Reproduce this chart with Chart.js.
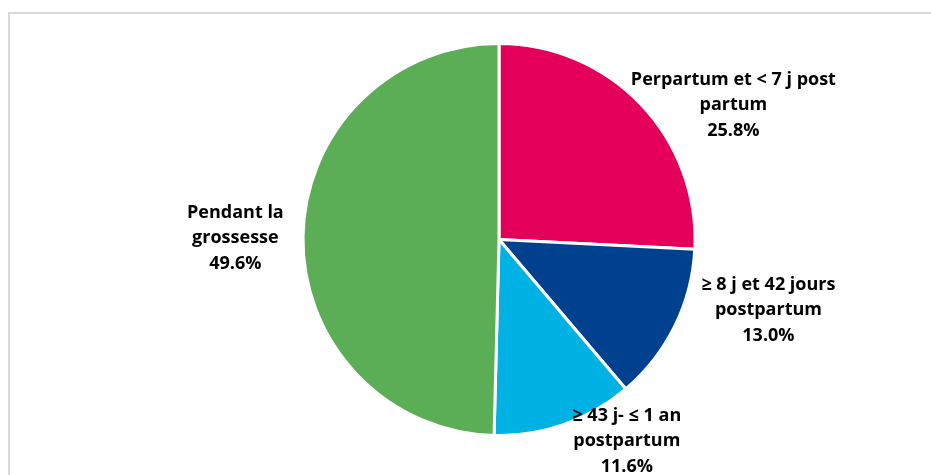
<!DOCTYPE html>
<html>
<head>
<meta charset="utf-8">
<script src="https://cdn.jsdelivr.net/npm/chart.js@4"></script>
<style>
  html, body { margin: 0; padding: 0; background: #ffffff; overflow: hidden; }
  #wrap { position: relative; width: 931px; height: 475px; }
  #frame { position: absolute; left: 8px; top: 12px; width: 1000px; height: 1000px; border: 2px solid #d9d9d9; box-sizing: border-box; }
  canvas { position: absolute; left: 0; top: 0; }
</style>
</head>
<body>
<div id="wrap">
  <div id="frame"></div>
  <canvas id="c" width="931" height="475"></canvas>
</div>
<script>
// ---- data ----
const categories = [
  "Perpartum et < 7 j post partum",
  "≥ 8 j et 42 jours postpartum",
  "≥ 43 j- ≤ 1 an postpartum",
  "Pendant la grossesse"
];
const values = [25.8, 13.0, 11.6, 49.6];
const labelLines = [
  ["Perpartum et < 7 j post", "partum"],
  ["≥ 8 j et 42 jours", "postpartum"],
  ["≥ 43 j- ≤ 1 an", "postpartum"],
  ["Pendant la", "grossesse"]
];

// ---- style / layout ----
const colors = ["#E4005A", "#00418F", "#00B2E3", "#5CAE56"];
const labelAngleShiftDeg = [13.7, -11.6, -12.9, -0.4];
const labelDistFactor = [1.379, 1.421, 1.219, 1.345];
const labelFont = "bold 18px 'Open Sans', 'Liberation Sans', sans-serif";
const lineHeight = 25.5;

const labelPlugin = {
  id: 'outsideLabels',
  afterDatasetsDraw(chart) {
    const ctx = chart.ctx;
    const meta = chart.getDatasetMeta(0);
    ctx.save();
    ctx.font = labelFont;
    ctx.fillStyle = "#000000";
    ctx.textAlign = "center";
    ctx.textBaseline = "middle";
    meta.data.forEach((arc, i) => {
      const p = arc.getProps(['x', 'y', 'startAngle', 'endAngle', 'outerRadius'], true);
      const mid = (p.startAngle + p.endAngle) / 2 + labelAngleShiftDeg[i] * Math.PI / 180;
      const r = p.outerRadius * labelDistFactor[i];
      const cx = p.x + r * Math.cos(mid);
      const cy = p.y + r * Math.sin(mid);
      const lines = labelLines[i].concat([values[i].toFixed(1) + "%"]);
      const n = lines.length;
      lines.forEach((t, k) => {
        ctx.fillText(t, cx, cy + (k - (n - 1) / 2) * lineHeight);
      });
    });
    ctx.restore();
  }
};

new Chart(document.getElementById('c'), {
  type: 'pie',
  data: {
    labels: categories,
    datasets: [{
      data: values,
      backgroundColor: colors,
      borderColor: "#ffffff",
      borderWidth: 3
    }]
  },
  options: {
    responsive: false,
    animation: false,
    radius: 196,
    layout: { padding: { left: 304, right: 237, top: 44.5, bottom: 40.5 } },
    plugins: { legend: { display: false }, tooltip: { enabled: false } }
  },
  plugins: [labelPlugin]
});
</script>
</body>
</html>
